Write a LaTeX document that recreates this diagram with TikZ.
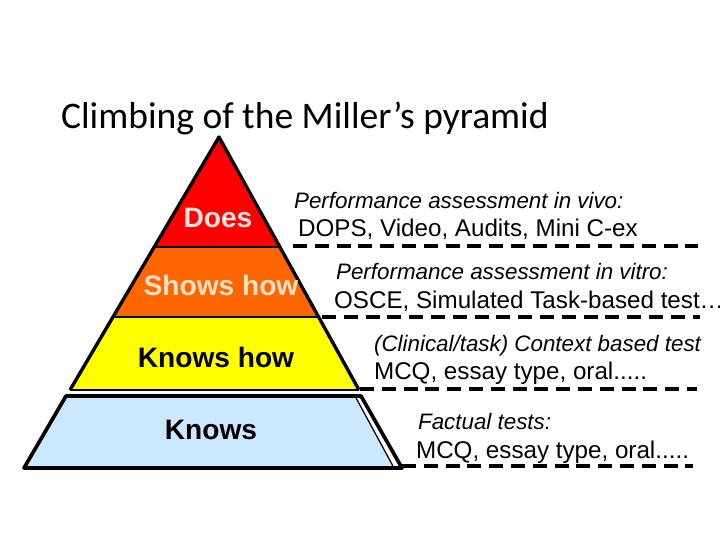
\documentclass[tikz,border=0pt]{standalone}
\usepackage{fontspec}
\setmainfont{Liberation Sans}
\newfontfamily\titlefont{Carlito}
\definecolor{doesred}{RGB}{255,0,0}
\definecolor{showsorange}{RGB}{255,102,0}
\definecolor{knowsyellow}{RGB}{255,255,0}
\definecolor{knowsblue}{RGB}{204,232,255}
\definecolor{doestext}{RGB}{255,228,228}
\definecolor{showstext}{RGB}{255,226,200}
\begin{document}
\begin{tikzpicture}[x=0.025cm,y=-0.025cm,line width=1.6pt,line join=round,
  level/.style={font=\fontsize{20}{24}\selectfont\bfseries},
  note/.style={anchor=base west,inner sep=0pt,font=\fontsize{17.2}{20}\selectfont},
  noteit/.style={note,font=\fontsize{15.9}{20}\selectfont\itshape},
  sep/.style={line width=2.4pt,dash pattern=on 10pt off 5.5pt}]
  \useasboundingbox (0,0) rectangle (720,540);
  \clip (0,0) rectangle (720,540);

  \coordinate (T) at (219,137);
  \coordinate (L1) at (154,247);
  \coordinate (R1) at (280,247);
  \coordinate (L2) at (113,317);
  \coordinate (R2) at (318.5,317);
  \coordinate (L3) at (70,390);
  \coordinate (R3) at (359,390);
  \coordinate (L4) at (66,396);
  \coordinate (R4) at (355,396);
  \coordinate (L5) at (24,468);
  \coordinate (R5) at (394,468);
  \coordinate (P4) at (361,396);
  \coordinate (P5) at (402,468);

  % Schichten
  \fill[doesred] (T) -- (L1) -- (R1) -- cycle;
  \fill[showsorange] (L1) -- (L2) -- (R2) -- (R1) -- cycle;
  \fill[knowsyellow] (L2) -- (L3) -- (R3) -- (R2) -- cycle;
  \fill[knowsblue] (L4) -- (L5) -- (R5) -- (R4) -- cycle;

  % Umriss
  \draw[line width=2.4pt] (L3) -- (T) -- (R3);
  \draw (L1) -- (R1) (L2) -- (R2) (L3) -- (R3);
  \draw[line width=2.6pt] (P4) -- (L4) -- (L5) -- (P5) -- cycle;
  \draw[line width=0.9pt] (R4) -- (R5);

  % Stufen
  \node[level,text=doestext] (does) at (218,218) {Does};
  \node[level,text=showstext] (showshow) at (221,285) {Shows how};
  \node[level] (knowshow) at (216,357) {Knows how};
  \node[level] (knows) at (211,430) {Knows};

  % Titel
  \node[anchor=west,inner sep=0pt,font=\titlefont\fontsize{26.7}{30}\selectfont] (title) at (60,118) {Climbing of the Miller’s pyramid};

  % Pruefungsformen
  \node[noteit] (vivo) at (293,208) {Performance assessment in vivo:};
  \node[note] (vivotools) at (297,236) {DOPS, Video, Audits, Mini C-ex};
  \node[noteit] (vitro) at (335,279) {Performance assessment in vitro:};
  \node[note] (vitrotools) at (333,308) {OSCE, Simulated Task-based test…};
  \node[noteit] (context) at (373,351) {(Clinical/task) Context based test};
  \node[note] (contexttools) at (373,379) {MCQ, essay type, oral.....};
  \node[noteit] (factual) at (417,429) {Factual tests:};
  \node[note] (factualtools) at (415,458) {MCQ, essay type, oral.....};

  % Trennlinien
  \draw[sep] (293,246) -- (698,246);
  \draw[sep] (322,317) -- (700,317);
  \draw[sep] (360,389) -- (697,389);
  \draw[sep] (402,466) -- (693,466);
\end{tikzpicture}
\end{document}
